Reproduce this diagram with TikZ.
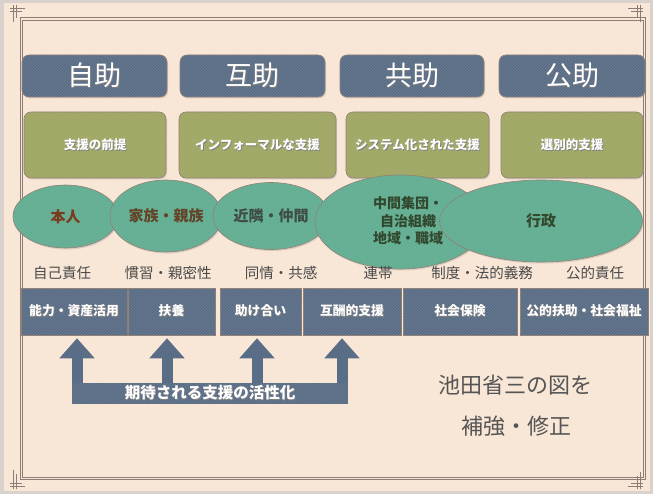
\documentclass[tikz,border=0pt]{standalone}
\usepackage{fontspec}
\setmainfont{Noto Sans CJK JP}
\usetikzlibrary{shapes.geometric,arrows.meta,calc,shadows,patterns}
\definecolor{bgpeach}{HTML}{F8E6D6}
\definecolor{bgedge}{HTML}{D9D2CC}
\definecolor{framec}{HTML}{8C7E76}
\definecolor{slate}{HTML}{5A6D86}
\definecolor{olive}{HTML}{A0A764}
\definecolor{teal}{HTML}{62AE92}
\definecolor{outl}{HTML}{8E7F74}
\definecolor{labgray}{HTML}{4A4A4A}
\newcommand\shtext[1]{\leavevmode\rlap{\kern0.9pt\raisebox{-0.9pt}{\textcolor{black!50}{#1}}}#1}
\tikzset{
  stripes/.style={postaction={pattern=north east lines, pattern color=white, opacity=0.10}},
  headbox/.style={draw=outl, line width=0.6pt, fill=slate, rounded corners=7pt, inner sep=0pt, stripes,
    text=white, font=\fontsize{27}{30}\selectfont, drop shadow={shadow xshift=1pt, shadow yshift=-1.5pt, opacity=0.25}},
  greenbox/.style={draw=outl, line width=0.6pt, fill=olive, rounded corners=7pt, inner sep=0pt, stripes,
    text=white, font=\bfseries\fontsize{12.5}{14}\selectfont, drop shadow={shadow xshift=1pt, shadow yshift=-1.5pt, opacity=0.25}},
  oval/.style={ellipse, draw=outl, line width=0.6pt, fill=teal, inner sep=0pt, stripes,
    font=\bfseries\fontsize{15}{18}\selectfont, drop shadow={shadow xshift=1pt, shadow yshift=-1.5pt, opacity=0.25}},
  lab/.style={text=labgray, font=\fontsize{14.5}{16}\selectfont, inner sep=0pt},
  botbox/.style={draw=outl, line width=0.5pt, fill=slate, inner sep=0pt, minimum height=47pt, stripes,
    text=white, font=\bfseries\fontsize{12.8}{14}\selectfont},
  barbox/.style={fill=slate, inner sep=0pt, minimum width=276pt, minimum height=21pt, stripes,
    text=white, font=\bfseries\fontsize{15.5}{17}\selectfont},
  bigarrow/.style={draw=slate, line width=11pt, -{Triangle[width=34pt,length=20pt]}},
  orn/.style={draw=framec, line width=0.4pt},
}
\begin{document}
\begin{tikzpicture}[x=1pt,y=-1pt]
\useasboundingbox (0,0) rectangle (653,494);
\fill[bgedge] (0,0) rectangle (653,494);
\fill[bgpeach] (4,3) rectangle (650,491);
% frame
\draw[framec, line width=0.7pt] (20,17) rectangle (645,479);
\draw[framec, line width=0.7pt] (22,20) rectangle (643,477);
% corner ornaments
\draw[orn] (10,8) -- (25,8) (10,11) -- (22,11) (13,5) -- (13,22) (16,5) -- (16,18);
\draw[orn] (643,8) -- (628,8) (643,11) -- (631,11) (640,5) -- (640,22) (637,5) -- (637,18);
\draw[orn] (10,486) -- (25,486) (10,483) -- (22,483) (13,489) -- (13,470) (16,489) -- (16,474);
\draw[orn] (643,486) -- (628,486) (643,483) -- (631,483) (640,489) -- (640,472) (637,489) -- (637,476);
% header boxes
\node[headbox, minimum width=145pt, minimum height=42pt] (h1) at (94.5,76) {\shtext{自助}};
\node[headbox, minimum width=145pt, minimum height=42pt] (h2) at (252.5,76) {\shtext{互助}};
\node[headbox, minimum width=144pt, minimum height=42pt] (h3) at (412,76) {\shtext{共助}};
\node[headbox, minimum width=146pt, minimum height=42pt] (h4) at (572,76) {\shtext{公助}};
% green boxes
\node[greenbox, minimum width=142pt, minimum height=66pt] (g1) at (95,145) {\shtext{支援の前提}};
\node[greenbox, minimum width=157pt, minimum height=66pt] (g2) at (257.5,145) {\shtext{インフォーマルな支援}};
\node[greenbox, minimum width=143pt, minimum height=66pt] (g3) at (417.5,145) {\shtext{システム化された支援}};
\node[greenbox, minimum width=142pt, minimum height=66pt] (g4) at (572,145) {\shtext{選別的支援}};
% ellipses
\node[oval, minimum width=105pt, minimum height=63pt, text={rgb,255:red,122;green,59;blue,30}] (e1) at (65.5,216.5) {本人};
\node[oval, minimum width=112pt, minimum height=72pt, text={rgb,255:red,100;green,68;blue,40}] (e2) at (166,216) {家族・親族};
\node[oval, minimum width=116pt, minimum height=67pt, text={rgb,255:red,62;green,78;blue,68}] (e3) at (271,216) {近隣・仲間};
\node[oval, minimum width=170pt, minimum height=94pt] (e4) at (400,222) {};
\node[oval, minimum width=203pt, minimum height=82pt, text={rgb,255:red,52;green,72;blue,46}] (e5) at (541,221) {行政};
\node[align=center, inner sep=0pt, text={rgb,255:red,50;green,72;blue,46}, font=\bfseries\fontsize{14}{17.5}\selectfont] (e4t) at (408,221) {中間集団・\\自治組織\\地域・職域};
% serif labels
\node[lab] (l1) at (62,273) {自己責任};
\node[lab] (l2) at (168,273) {慣習・親密性};
\node[lab] (l3) at (281,273) {同情・共感};
\node[lab] (l4) at (378,273) {連帯};
\node[lab] (l5) at (482,273) {制度・法的義務};
\node[lab] (l6) at (595,273) {公的責任};
% bottom boxes
\node[botbox, minimum width=106pt] (b1) at (74,311.5) {\shtext{能力・資産活用}};
\node[botbox, minimum width=87pt] (b2) at (171.5,311.5) {\shtext{扶養}};
\node[botbox, minimum width=81pt] (b3) at (260.5,311.5) {\shtext{助け合い}};
\node[botbox, minimum width=98pt] (b4) at (352,311.5) {\shtext{互酬的支援}};
\node[botbox, minimum width=114pt] (b5) at (460,311.5) {\shtext{社会保険}};
\node[botbox, minimum width=128pt] (b6) at (584,311.5) {\shtext{公的扶助・社会福祉}};
% bar and arrows
\node[barbox] (bar) at (210,393.5) {\shtext{期待される支援の活性化}};
\coordinate (a1) at (77,0);
\coordinate (a2) at (167,0);
\coordinate (a3) at (257,0);
\coordinate (a4) at (342,0);
\draw[bigarrow, shorten >=3pt] (bar.north -| a1) -- (b1.south -| a1);
\draw[bigarrow, shorten >=3pt] (bar.north -| a2) -- (b2.south -| a2);
\draw[bigarrow, shorten >=3pt] (bar.north -| a3) -- (b3.south -| a3);
\draw[bigarrow, shorten >=3pt] (bar.north -| a4) -- (b4.south -| a4);
% note
\node[text={rgb,255:red,85;green,85;blue,85}, font=\fontsize{22}{24}\selectfont, inner sep=0pt] (n1) at (515,385) {池田省三の図を};
\node[text={rgb,255:red,85;green,85;blue,85}, font=\fontsize{22}{24}\selectfont, inner sep=0pt] (n2) at (516,426) {補強・修正};
\end{tikzpicture}
\end{document}
